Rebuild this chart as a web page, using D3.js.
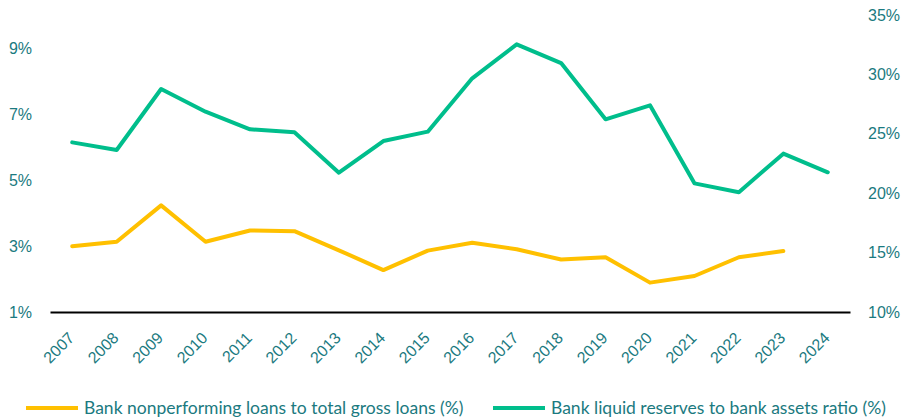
<!DOCTYPE html>
<html>
<head>
<meta charset="utf-8">
<script src="https://cdn.jsdelivr.net/npm/d3@7"></script>
<style>
  html, body { margin: 0; padding: 0; background: #fff; }
  svg { display: block; font-family: Lato, "Open Sans", sans-serif; }
</style>
</head>
<body>
<svg id="chart" width="902" height="420"></svg>
<script>
// Years on the category axis
const years = ["2007","2008","2009","2010","2011","2012","2013","2014","2015",
               "2016","2017","2018","2019","2020","2021","2022","2023","2024"];

// Bank nonperforming loans to total gross loans (%), left axis (no 2024 value)
const nplValues = [2.99, 3.13, 4.23, 3.13, 3.47, 3.45, 2.87, 2.27, 2.86,
                   3.10, 2.90, 2.59, 2.66, 1.89, 2.09, 2.66, 2.85, null];

// Bank liquid reserves to bank assets ratio (%), right axis
const reserveValues = [24.28, 23.64, 28.77, 26.86, 25.38, 25.13, 21.73, 24.39, 25.18,
                       29.67, 32.53, 30.95, 26.22, 27.40, 20.83, 20.08, 23.33, 21.76];

const leftTicks = [1, 3, 5, 7, 9];
const rightTicks = [10, 15, 20, 25, 30, 35];

const seriesNames = ["Bank nonperforming loans to total gross loans (%)",
                     "Bank liquid reserves to bank assets ratio (%)"];
const seriesColors = ["#FFC000", "#00BE8C"];
const textColor = "#1B7A80";

const svg = d3.select("#chart");
const margin = { left: 50, right: 52, top: 15, bottom: 108 };
const width = 902, height = 420;

const x = d3.scaleBand().domain(years).range([margin.left, width - margin.right]);
const yLeft = d3.scaleLinear().domain([1, 10]).range([height - margin.bottom, margin.top]);
const yRight = d3.scaleLinear().domain([10, 35]).range([height - margin.bottom, margin.top]);

// Left axis labels
const leftAxis = svg.append("g")
  .attr("transform", `translate(${margin.left},0)`)
  .call(d3.axisLeft(yLeft).tickValues(leftTicks).tickSize(0).tickPadding(18)
          .tickFormat(d => d + "%"));
leftAxis.select(".domain").remove();

// Right axis labels
const rightAxis = svg.append("g")
  .attr("transform", `translate(${width - margin.right},0)`)
  .call(d3.axisRight(yRight).tickValues(rightTicks).tickSize(0).tickPadding(18)
          .tickFormat(d => d + "%"));
rightAxis.select(".domain").remove();

[leftAxis, rightAxis].forEach(g => {
  g.selectAll("text").attr("fill", textColor).style("font-size", "16px");
});

// Bottom axis with rotated year labels
const bottomAxis = svg.append("g")
  .attr("transform", `translate(0,${height - margin.bottom})`)
  .call(d3.axisBottom(x).tickSize(0).tickPadding(0));
bottomAxis.select(".domain").attr("stroke", "#000").attr("stroke-width", 2);
bottomAxis.selectAll("text")
  .attr("fill", textColor)
  .style("font-size", "16px")
  .attr("text-anchor", "end")
  .attr("dy", null)
  .attr("y", 0)
  .attr("transform", "translate(3,27) rotate(-45)");

// Lines
const nplLine = d3.line()
  .defined(d => d != null)
  .x((d, i) => x(years[i]) + x.bandwidth() / 2)
  .y(d => yLeft(d));
const reserveLine = d3.line()
  .x((d, i) => x(years[i]) + x.bandwidth() / 2)
  .y(d => yRight(d));

svg.append("path")
  .datum(nplValues)
  .attr("fill", "none")
  .attr("stroke", seriesColors[0])
  .attr("stroke-width", 4)
  .attr("stroke-linejoin", "round")
  .attr("stroke-linecap", "round")
  .attr("d", nplLine);

svg.append("path")
  .datum(reserveValues)
  .attr("fill", "none")
  .attr("stroke", seriesColors[1])
  .attr("stroke-width", 4)
  .attr("stroke-linejoin", "round")
  .attr("stroke-linecap", "round")
  .attr("d", reserveLine);

// Legend
const legendY = 408;
const legendX = [26, 493];
seriesNames.forEach((name, i) => {
  const g = svg.append("g").attr("transform", `translate(${legendX[i]},${legendY})`);
  g.append("line")
    .attr("x1", 0).attr("x2", 52)
    .attr("y1", 0).attr("y2", 0)
    .attr("stroke", seriesColors[i])
    .attr("stroke-width", 4);
  g.append("text")
    .attr("x", 58).attr("y", 0)
    .attr("dy", "0.35em")
    .attr("fill", textColor)
    .style("font-size", "17.5px")
    .text(name);
});
</script>
</body>
</html>
